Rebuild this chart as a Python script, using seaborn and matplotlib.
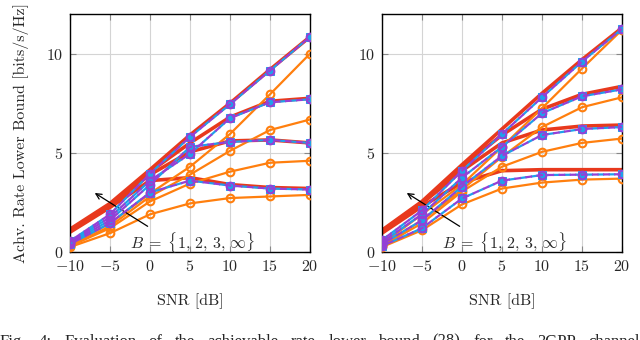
import numpy as np
import pandas as pd
import matplotlib
matplotlib.use('Agg')
import matplotlib.pyplot as plt
import seaborn as sns

# SNR grid
snr = [-10, -5, 0, 5, 10, 15, 20]
b_labels = ['1', '2', '3', 'inf']

# left panel: red (solid), blue/purple (dashed, markers), orange (markers)
left_red = {
    'inf': [1.15, 2.45, 4.15, 5.9, 7.5, 9.2, 10.85],
    '3': [1.1, 2.4, 4.05, 5.5, 6.8, 7.6, 7.75],
    '2': [1.05, 2.35, 3.9, 5.05, 5.6, 5.65, 5.5],
    '1': [1.0, 2.25, 3.6, 3.75, 3.4, 3.25, 3.2],
}
left_dash = {
    'inf': [0.55, 1.9, 3.95, 5.8, 7.45, 9.15, 10.85],
    '3': [0.5, 1.75, 3.6, 4.95, 6.75, 7.55, 7.7],
    '2': [0.45, 1.6, 3.4, 5.3, 5.55, 5.65, 5.5],
    '1': [0.4, 1.45, 3.0, 3.6, 3.35, 3.2, 3.15],
}
left_orange = {
    'inf': [0.35, 1.45, 2.95, 4.3, 5.95, 7.95, 10.0],
    '3': [0.3, 1.3, 2.8, 3.9, 5.1, 6.15, 6.68],
    '2': [0.3, 1.2, 2.55, 3.45, 4.05, 4.5, 4.6],
    '1': [0.25, 0.95, 1.9, 2.45, 2.72, 2.8, 2.88],
}

# right panel
right_red = {
    'inf': [1.1, 2.55, 4.4, 6.2, 8.0, 9.7, 11.3],
    '3': [1.05, 2.5, 4.3, 5.9, 7.2, 7.95, 8.35],
    '2': [1.0, 2.45, 4.1, 5.5, 6.15, 6.35, 6.4],
    '1': [0.95, 2.3, 3.5, 4.1, 4.15, 4.15, 4.15],
}
right_dash = {
    'inf': [0.6, 2.1, 4.1, 5.95, 7.8, 9.6, 11.25],
    '3': [0.5, 1.9, 3.75, 5.3, 7.0, 7.85, 8.2],
    '2': [0.4, 1.6, 3.3, 4.85, 5.9, 6.2, 6.3],
    '1': [0.3, 1.2, 2.7, 3.6, 3.88, 3.9, 3.92],
}
right_orange = {
    'inf': [0.4, 1.9, 3.4, 5.3, 7.25, 9.25, 11.2],
    '3': [0.35, 1.6, 3.15, 4.8, 6.3, 7.3, 7.8],
    '2': [0.3, 1.45, 3.05, 4.3, 5.05, 5.5, 5.72],
    '1': [0.25, 1.1, 2.4, 3.2, 3.5, 3.65, 3.7],
}

# caption (justified in the paper, cut off at the bottom of the image)
caption_words = ['Fig.', '4:', 'Evaluation', 'of', 'the', 'achievable', 'rate',
                 'lower', 'bound', '(28)', 'for', 'the', '3GPP', 'channel']

RED = '#e8391d'
BLUE = '#1fa0ea'
PURPLE = '#9440d6'
ORANGE = '#ff7f0e'

sns.set_style('whitegrid')
plt.rcParams['font.family'] = ['cmr10', 'DejaVu Serif']
plt.rcParams['mathtext.fontset'] = 'cm'
plt.rcParams['axes.formatter.use_mathtext'] = True

fig = plt.figure(figsize=(6.4, 3.4), dpi=100)
ax1 = fig.add_axes([70 / 640, 88 / 340, 240 / 640, 238 / 340])
ax2 = fig.add_axes([382 / 640, 88 / 340, 240 / 640, 238 / 340])


def draw_panel(ax, red, dash, orange):
    for b in b_labels:
        sns.lineplot(x=snr, y=red[b], ax=ax, color=RED, lw=2.6, zorder=2)
    for b in b_labels:
        sns.lineplot(x=snr, y=orange[b], ax=ax, color=ORANGE, lw=1.6,
                     marker='o', ms=5.5, mfc='none', mec=ORANGE, mew=1.5, zorder=3)
    for b in b_labels:
        sns.lineplot(x=snr, y=dash[b], ax=ax, color=BLUE, lw=1.6, linestyle=(0, (3, 2)),
                     marker='s', ms=6, mfc=BLUE, mec=BLUE, zorder=4)
        sns.lineplot(x=snr, y=dash[b], ax=ax, color=PURPLE, lw=1.6, linestyle=(2.5, (3, 2)),
                     marker='o', ms=5.5, mfc='none', mec=PURPLE, mew=1.5, zorder=5)

    ax.set_xlim(-10, 20)
    ax.set_ylim(0, 12)
    ax.set_xticks([-10, -5, 0, 5, 10, 15, 20])
    ax.set_yticks([0, 5, 10])
    ax.grid(True, color='#d4d4d4', lw=0.8)
    for s in ax.spines.values():
        s.set_color('black')
        s.set_linewidth(1.0)
    ax.tick_params(direction='in', length=4, width=0.8, color='#888888',
                   top=True, right=True, bottom=True, left=True, labelsize=11.5, pad=5)
    ax.set_xlabel('SNR [dB]', fontsize=11.5, labelpad=14)

    ax.annotate('', xy=(-7.2, 3.05), xytext=(0.0, 1.22),
                arrowprops=dict(arrowstyle='->', color='black', lw=0.9))
    ax.text(5.4, 0.47, r'$B\;=\;\{1,\,2,\,3,\,\infty\}$', ha='center', va='center', fontsize=11.5)


draw_panel(ax1, left_red, left_dash, left_orange)
draw_panel(ax2, right_red, right_dash, right_orange)
ax1.set_ylabel('Achv. Rate Lower Bound [bits/s/Hz]', fontsize=11.5, labelpad=12)

# justified caption line
renderer = fig.canvas.get_renderer()
texts = [fig.text(0, 6.5 / 340, w, fontsize=12, family='Liberation Serif', va='top', ha='left')
         for w in caption_words]
widths = [t.get_window_extent(renderer).width for t in texts]
gap = (640 - sum(widths)) / (len(texts) - 1)
xpos = 0.0
for t, w in zip(texts, widths):
    t.set_x(xpos / 640)
    xpos += w + gap

fig.savefig('out.png', dpi=100)
